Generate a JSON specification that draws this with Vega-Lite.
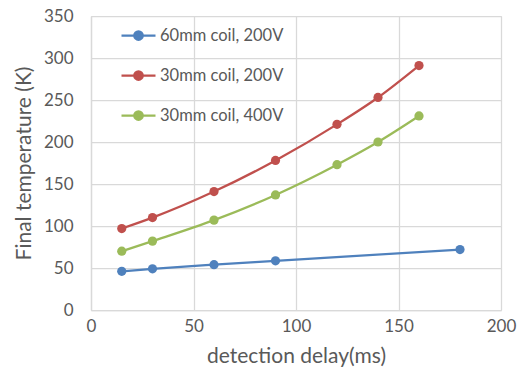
{
  "$schema": "https://vega.github.io/schema/vega-lite/v6.json",
  "width": 410,
  "height": 294,
  "autosize": "none",
  "padding": {"left": 91, "top": 16, "right": 24, "bottom": 70},
  "background": "white",
  "config": {
    "font": "Lato",
    "view": {"stroke": "#D9D9D9", "strokeWidth": 1},
    "axis": {
      "grid": true,
      "gridColor": "#D9D9D9",
      "gridOpacity": 1,
      "gridWidth": 1.25,
      "domain": true,
      "domainColor": "#D9D9D9",
      "domainWidth": 1.25,
      "ticks": false,
      "labelFlush": false,
      "labelColor": "#595959",
      "titleColor": "#595959",
      "labelFontSize": 17,
      "titleFontSize": 21,
      "titleFontWeight": "normal"
    }
  },
  "data": {
    "values": [
      {"series": "60mm coil, 200V", "delay": 15, "temp": 46},
      {"series": "60mm coil, 200V", "delay": 30, "temp": 49},
      {"series": "60mm coil, 200V", "delay": 60, "temp": 54},
      {"series": "60mm coil, 200V", "delay": 90, "temp": 58.5},
      {"series": "60mm coil, 200V", "delay": 180, "temp": 72},
      {"series": "30mm coil, 200V", "delay": 15, "temp": 97},
      {"series": "30mm coil, 200V", "delay": 30, "temp": 110},
      {"series": "30mm coil, 200V", "delay": 60, "temp": 141},
      {"series": "30mm coil, 200V", "delay": 90, "temp": 178},
      {"series": "30mm coil, 200V", "delay": 120, "temp": 221},
      {"series": "30mm coil, 200V", "delay": 140, "temp": 253},
      {"series": "30mm coil, 200V", "delay": 160, "temp": 291},
      {"series": "30mm coil, 400V", "delay": 15, "temp": 70},
      {"series": "30mm coil, 400V", "delay": 30, "temp": 82},
      {"series": "30mm coil, 400V", "delay": 60, "temp": 107},
      {"series": "30mm coil, 400V", "delay": 90, "temp": 137},
      {"series": "30mm coil, 400V", "delay": 120, "temp": 173},
      {"series": "30mm coil, 400V", "delay": 140, "temp": 200},
      {"series": "30mm coil, 400V", "delay": 160, "temp": 231}
    ]
  },
  "mark": {
    "type": "line",
    "interpolate": "monotone",
    "strokeWidth": 2.25,
    "point": {"filled": true, "size": 85, "opacity": 1}
  },
  "encoding": {
    "x": {
      "field": "delay",
      "type": "quantitative",
      "scale": {"domain": [0, 200], "nice": false},
      "axis": {"values": [0, 50, 100, 150, 200], "grid": true, "title": "detection delay(ms)", "labelPadding": 8, "titlePadding": 11}
    },
    "y": {
      "field": "temp",
      "type": "quantitative",
      "scale": {"domain": [0, 350], "nice": false},
      "axis": {"values": [0, 50, 100, 150, 200, 250, 300, 350], "grid": true, "title": "Final temperature (K)", "labelPadding": 18, "titlePadding": 9}
    },
    "color": {
      "field": "series",
      "type": "nominal",
      "sort": ["60mm coil, 200V", "30mm coil, 200V", "30mm coil, 400V"],
      "scale": {"range": ["#4F81BD", "#C0504D", "#9BBB59"]},
      "legend": {
        "title": null,
        "orient": "none",
        "legendX": 29,
        "legendY": 1,
        "padding": 0,
        "symbolType": "M-1,0H1M-0.25,0A0.25,0.25 0 1,1 0.25,0A0.25,0.25 0 1,1 -0.25,0",
        "symbolSize": 1156,
        "symbolStrokeWidth": 2.25,
        "symbolOpacity": 1,
        "labelFontSize": 16.5,
        "labelColor": "#595959",
        "labelOffset": 3,
        "rowPadding": 12
      }
    }
  }
}
